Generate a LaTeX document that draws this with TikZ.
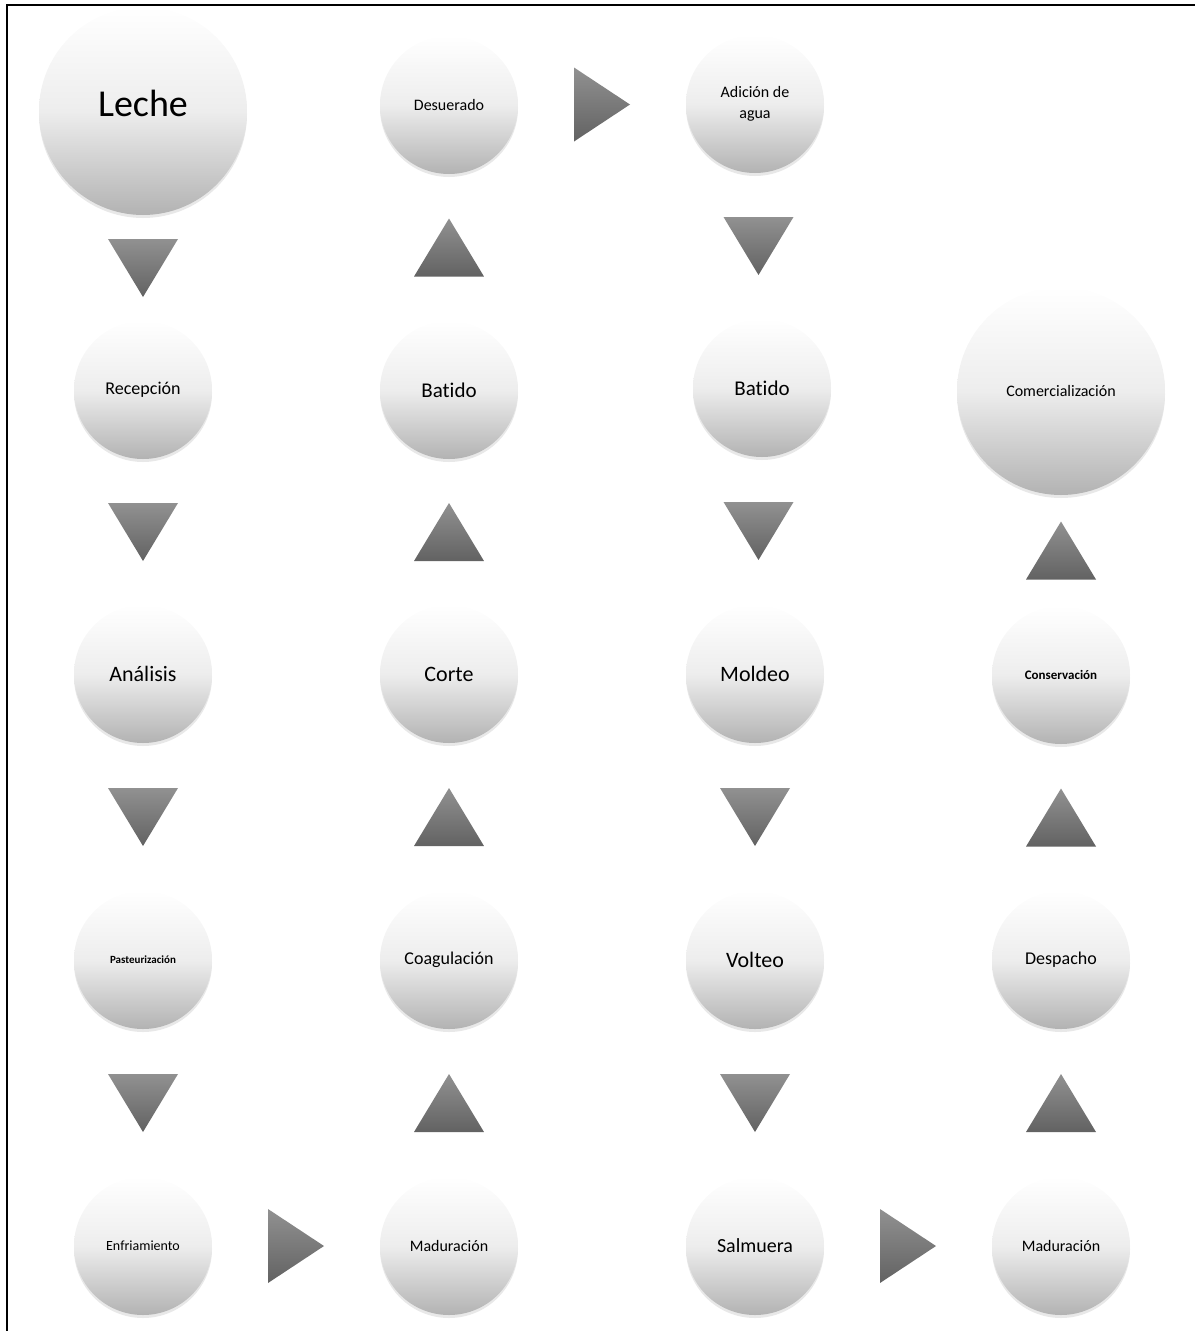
\documentclass[tikz,border=0pt]{standalone}
\usepackage{fontspec}
\setmainfont{Carlito}[Ligatures=NoCommon]
\usetikzlibrary{calc,shadows}

\definecolor{triclaro}{RGB}{145,145,145}
\definecolor{trioscuro}{RGB}{98,98,98}
\newcommand{\tam}[1]{\fontsize{#1}{#1}\selectfont}

\tikzset{
  etapa/.style={circle,minimum size=138pt,inner sep=0pt,align=center,
    top color=white,bottom color=black!30,middle color=black!7,
    drop shadow={shadow xshift=0pt,shadow yshift=-3pt,opacity=0.18}},
  grande/.style={etapa,minimum size=208pt},
  flecha/.style={top color=triclaro,bottom color=trioscuro,draw=none},
  flechaab/.pic={\shade[flecha] (-35,-29) -- (35,-29) -- (0,29) -- cycle;},
  flechaar/.pic={\shade[flecha] (-35,29) -- (35,29) -- (0,-29) -- cycle;},
  flechader/.pic={\shade[flecha] (-28,-37) -- (28,0) -- (-28,37) -- cycle;},
}

\begin{document}
\begin{tikzpicture}[x=1pt,y=-1pt]
\useasboundingbox (0,0) rectangle (1195,1331);
\draw[line width=2pt] (7,1331) -- (7,5) -- (1195,5);

% columna 1
\node[grande,font=\tam{38}] (leche) at (143,111) {\raisebox{16pt}{Leche}};
\node[etapa,font=\tam{18}] (recepcion) at (143,390) {Recepción};
\node[etapa,font=\tam{22}] (analisis) at (143,674) {Análisis};
\node[etapa,font=\tam{11}\bfseries] (pasteur) at (143,960) {Pasteurización};
\node[etapa,font=\tam{14}] (enfriam) at (143,1246) {Enfriamiento};

% columna 2
\node[etapa,font=\tam{16}] (desuerado) at (449,105) {Desuerado};
\node[etapa,font=\tam{21}] (batidoA) at (449,390) {Batido};
\node[etapa,font=\tam{22}] (corte) at (449,674) {Corte};
\node[etapa,font=\tam{18}] (coagul) at (449,960) {Coagulación};
\node[etapa,font=\tam{16}] (madurA) at (449,1246) {Maduración};

% columna 3
\node[etapa,font=\tam{16}] (adicion) at (755,104) {Adición de\\[5pt]agua};
\node[etapa,font=\tam{21}] (batidoB) at (762,388) {Batido};
\node[etapa,font=\tam{22}] (moldeo) at (755,674) {Moldeo};
\node[etapa,font=\tam{22}] (volteo) at (755,960) {Volteo};
\node[etapa,font=\tam{20}] (salmuera) at (755,1246) {Salmuera};

% columna 4
\node[grande,font=\tam{16}] (comercial) at (1061,391) {Comercialización};
\node[etapa,font=\tam{13}\bfseries] (conserv) at (1061,675) {Conservación};
\node[etapa,font=\tam{18}] (despacho) at (1061,960) {Despacho};
\node[etapa,font=\tam{16}] (madurB) at (1061,1246) {Maduración};

% flechas
\pic at ($(leche.south)!0.5!(recepcion.north)$) {flechaab};
\pic at ($(recepcion.south)!0.5!(analisis.north)$) {flechaab};
\pic at ($(analisis.south)!0.5!(pasteur.north)$) {flechaab};
\pic at ($(pasteur.south)!0.5!(enfriam.north)$) {flechaab};
\pic at ($(enfriam.east)!0.5!(madurA.west)$) {flechader};
\pic at ($(madurA.north)!0.5!(coagul.south)$) {flechaar};
\pic at ($(coagul.north)!0.5!(corte.south)$) {flechaar};
\pic at ($(corte.north)!0.5!(batidoA.south)$) {flechaar};
\pic at ($(batidoA.north)!0.5!(desuerado.south)$) {flechaar};
\pic at ($(desuerado.east)!0.5!(adicion.west)$) {flechader};
\pic at ($(adicion.south)!0.5!(batidoB.north)$) {flechaab};
\pic at ($(batidoB.south)!0.5!(moldeo.north)$) {flechaab};
\pic at ($(moldeo.south)!0.5!(volteo.north)$) {flechaab};
\pic at ($(volteo.south)!0.5!(salmuera.north)$) {flechaab};
\pic at ($(salmuera.east)!0.5!(madurB.west)$) {flechader};
\pic at ($(madurB.north)!0.5!(despacho.south)$) {flechaar};
\pic at ($(despacho.north)!0.5!(conserv.south)$) {flechaar};
\pic at ($(conserv.north)!0.5!(comercial.south)$) {flechaar};
\end{tikzpicture}
\end{document}
